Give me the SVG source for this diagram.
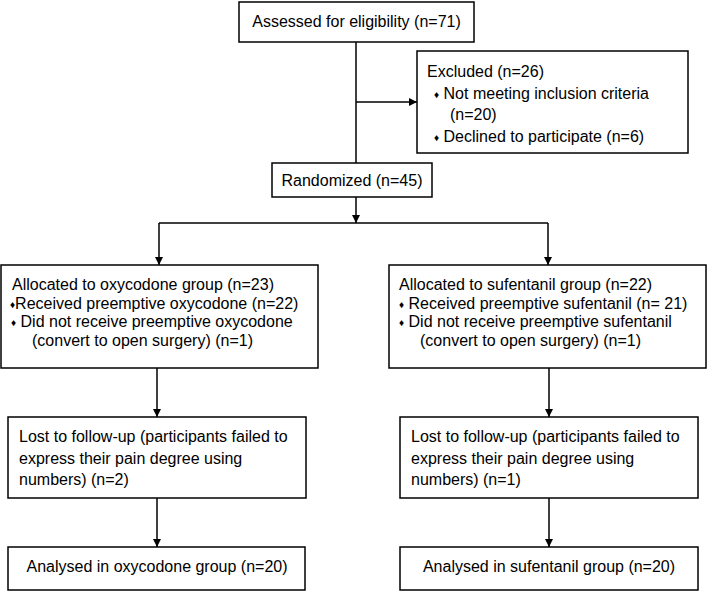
<svg xmlns="http://www.w3.org/2000/svg" width="709" height="591" viewBox="0 0 709 591">
<style>
.box{fill:#fff;stroke:#000;stroke-width:1.5}
.t{font-family:"Liberation Sans",Arial,sans-serif;font-size:16px;fill:#000}
.c{text-anchor:middle}
.b{font-size:10px}
.ln{stroke:#000;stroke-width:1.5;fill:none}
</style>
<defs>
<marker id="ah" viewBox="0 0 10 10" refX="10" refY="5" markerWidth="8" markerHeight="8" markerUnits="userSpaceOnUse" orient="auto">
<path d="M0,0 L10,5 L0,10 z" fill="#000"/>
</marker>
</defs>
<rect width="709" height="591" fill="#fff"/>
<g id="connectors">
<line class="ln" x1="356" y1="42" x2="356" y2="163"/>
<line class="ln" x1="356" y1="102" x2="417" y2="102" marker-end="url(#ah)"/>
<line class="ln" x1="356" y1="197" x2="356" y2="223" marker-end="url(#ah)"/>
<line class="ln" x1="159" y1="223" x2="548" y2="223"/>
<line class="ln" x1="159" y1="223" x2="159" y2="265" marker-end="url(#ah)"/>
<line class="ln" x1="548" y1="223" x2="548" y2="265" marker-end="url(#ah)"/>
<line class="ln" x1="157" y1="368" x2="157" y2="417" marker-end="url(#ah)"/>
<line class="ln" x1="157" y1="498" x2="157" y2="547" marker-end="url(#ah)"/>
<line class="ln" x1="549" y1="368" x2="549" y2="417" marker-end="url(#ah)"/>
<line class="ln" x1="549" y1="498" x2="549" y2="547" marker-end="url(#ah)"/>
</g>
<g id="assessed">
<rect class="box" x="239" y="2" width="235" height="40"/>
<text class="t c" x="356.5" y="27">Assessed for eligibility (n=71)</text>
</g>
<g id="excluded">
<rect class="box" x="417" y="51" width="271" height="102"/>
<text class="t" x="427" y="77">Excluded (n=26)</text>
<text class="t" x="434" y="99"><tspan class="b" dy="-1">♦</tspan><tspan dy="1"> Not meeting inclusion criteria</tspan></text>
<text class="t" x="450" y="120">(n=20)</text>
<text class="t" x="434" y="142"><tspan class="b" dy="-1">♦</tspan><tspan dy="1"> Declined to participate (n=6)</tspan></text>
</g>
<g id="randomized">
<rect class="box" x="272" y="163" width="160" height="34"/>
<text class="t c" x="352" y="186">Randomized (n=45)</text>
</g>
<g id="alloc-oxy">
<rect class="box" x="1" y="265" width="317" height="103"/>
<text class="t" x="12" y="290">Allocated to oxycodone group (n=23)</text>
<text class="t" x="10" y="309"><tspan class="b" dy="-1">♦</tspan><tspan dy="1">Received preemptive oxycodone (n=22)</tspan></text>
<text class="t" x="11" y="327"><tspan class="b" dy="-1">♦</tspan><tspan dy="1"> Did not receive preemptive oxycodone</tspan></text>
<text class="t" x="32" y="346">(convert to open surgery) (n=1)</text>
</g>
<g id="alloc-suf">
<rect class="box" x="389" y="265" width="317" height="103"/>
<text class="t" x="399" y="290">Allocated to sufentanil group (n=22)</text>
<text class="t" x="399" y="309"><tspan class="b" dy="-1">♦</tspan><tspan dy="1"> Received preemptive sufentanil (n= 21)</tspan></text>
<text class="t" x="399" y="327"><tspan class="b" dy="-1">♦</tspan><tspan dy="1"> Did not receive preemptive sufentanil</tspan></text>
<text class="t" x="420" y="346">(convert to open surgery) (n=1)</text>
</g>
<g id="lost-oxy">
<rect class="box" x="8" y="417" width="298" height="81"/>
<text class="t" x="19" y="442">Lost to follow-up (participants failed to</text>
<text class="t" x="19" y="464">express their pain degree using</text>
<text class="t" x="19" y="485">numbers) (n=2)</text>
</g>
<g id="lost-suf">
<rect class="box" x="400" y="417" width="298" height="81"/>
<text class="t" x="411" y="442">Lost to follow-up (participants failed to</text>
<text class="t" x="411" y="464">express their pain degree using</text>
<text class="t" x="411" y="485">numbers) (n=1)</text>
</g>
<g id="analysed-oxy">
<rect class="box" x="8" y="547" width="297" height="43"/>
<text class="t c" x="157" y="572">Analysed in oxycodone group (n=20)</text>
</g>
<g id="analysed-suf">
<rect class="box" x="400" y="547" width="298" height="43"/>
<text class="t c" x="549" y="572">Analysed in sufentanil group (n=20)</text>
</g>
</svg>
